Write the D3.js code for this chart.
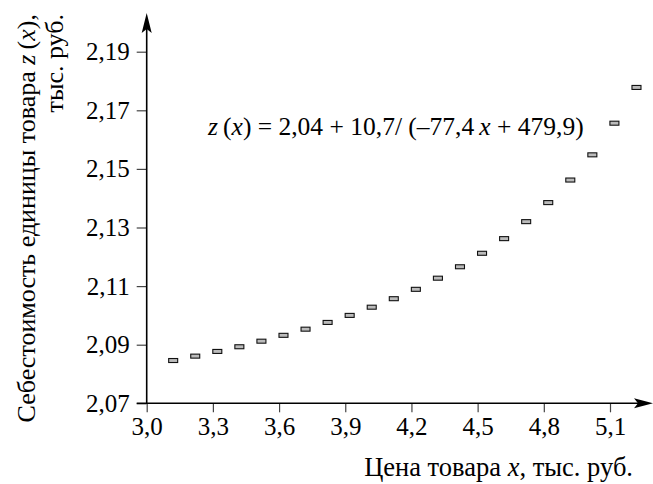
<!DOCTYPE html>
<html>
<head>
<meta charset="utf-8">
<script src="https://cdn.jsdelivr.net/npm/d3@7"></script>
<style>
  body { margin: 0; background: #fff; }
</style>
</head>
<body>
<svg id="chart" width="653" height="484"></svg>
<script>
// data
const priceX = [3.12, 3.22, 3.32, 3.42, 3.52, 3.62, 3.72, 3.82, 3.92, 4.02, 4.12,
                4.22, 4.32, 4.42, 4.52, 4.62, 4.72, 4.82, 4.92, 5.02, 5.12, 5.22];
const costZ = [2.0846, 2.0861, 2.0877, 2.0893, 2.0912, 2.0932, 2.0953, 2.0976, 2.1000, 2.1028, 2.1057,
               2.1089, 2.1127, 2.1166, 2.1212, 2.1262, 2.1320, 2.1385, 2.1462, 2.1548, 2.1656, 2.1778];
const xTicks = [3.0, 3.3, 3.6, 3.9, 4.2, 4.5, 4.8, 5.1];
const yTicks = [2.07, 2.09, 2.11, 2.13, 2.15, 2.17, 2.19];

const svg = d3.select("#chart");
const FONT = "'Liberation Serif'";

const x = d3.scaleLinear().domain([3.0, 5.1]).range([146.7, 610]);
const y = d3.scaleLinear().domain([2.07, 2.19]).range([403.3, 51.7]);
const xEnd = 653, yEnd = 13;

const fmt = (d, n) => d.toFixed(n).replace(".", ",");

// x axis
const gx = svg.append("g").attr("transform", `translate(0,${y(2.07)})`);
gx.call(d3.axisBottom(x).tickValues(xTicks).tickSize(9).tickPadding(5).tickFormat(d => fmt(d, 1)));
gx.select(".domain").remove();
gx.selectAll(".tick line").attr("stroke", "#444").attr("stroke-width", 1.2);
gx.selectAll(".tick text").style("font-family", FONT).style("font-size", "25px").attr("fill", "#000");

// y axis
const gy = svg.append("g").attr("transform", `translate(${x(3.0)},0)`);
gy.call(d3.axisLeft(y).tickValues(yTicks).tickSize(10).tickPadding(7).tickFormat(d => fmt(d, 2)));
gy.select(".domain").remove();
gy.selectAll(".tick line").attr("stroke", "#444").attr("stroke-width", 1.2);
gy.selectAll(".tick text").style("font-family", FONT).style("font-size", "25px").attr("fill", "#000");

// axis lines with arrows
svg.append("line")
    .attr("x1", x(3.0) - 10).attr("y1", y(2.07))
    .attr("x2", xEnd - 14).attr("y2", y(2.07))
    .attr("stroke", "#000").attr("stroke-width", 1.6);
svg.append("line")
    .attr("x1", x(3.0)).attr("y1", y(2.07))
    .attr("x2", x(3.0)).attr("y2", yEnd + 14)
    .attr("stroke", "#000").attr("stroke-width", 1.6);

const ax = y(2.07), ay = x(3.0);
svg.append("path")
    .attr("d", `M${xEnd},${ax} L${xEnd - 19},${ax - 5} L${xEnd - 15},${ax} L${xEnd - 19},${ax + 5} Z`)
    .attr("fill", "#000");
svg.append("path")
    .attr("d", `M${ay},${yEnd} L${ay - 5},${yEnd + 20} L${ay},${yEnd + 16} L${ay + 5},${yEnd + 20} Z`)
    .attr("fill", "#000");

// points
svg.append("g").selectAll("rect")
    .data(priceX.map((d, i) => ({ px: d, z: costZ[i] })))
    .join("rect")
    .attr("x", d => x(d.px) - 4.5)
    .attr("y", d => y(d.z) - 2)
    .attr("width", 9)
    .attr("height", 4)
    .attr("fill", "#bbb")
    .attr("stroke", "#111")
    .attr("stroke-width", 1.1);

// equation
const eq = svg.append("text")
    .attr("x", 208).attr("y", 135)
    .style("font-family", FONT).style("font-size", "25.5px");
eq.append("tspan").attr("font-style", "italic").text("z");
eq.append("tspan").text("\u2009(");
eq.append("tspan").attr("font-style", "italic").text("x");
eq.append("tspan").text(") = 2,04 + 10,7/ (\u201377,4\u2009");
eq.append("tspan").attr("font-style", "italic").text("x");
eq.append("tspan").text(" + 479,9)");

// x label
const xl = svg.append("text")
    .attr("x", 633).attr("y", 476)
    .attr("text-anchor", "end")
    .style("font-family", FONT).style("font-size", "26.5px");
xl.append("tspan").text("Цена товара ");
xl.append("tspan").attr("font-style", "italic").text("x");
xl.append("tspan").text(", тыс. руб.");

// y label (two lines)
const yl1 = svg.append("text")
    .attr("transform", "translate(35,14) rotate(-90)")
    .attr("text-anchor", "end")
    .style("font-family", FONT).style("font-size", "26px");
yl1.append("tspan").text("Себестоимость единицы товара ");
yl1.append("tspan").attr("font-style", "italic").text("z");
yl1.append("tspan").text("\u2009(");
yl1.append("tspan").attr("font-style", "italic").text("x");
yl1.append("tspan").text("),");

svg.append("text")
    .attr("transform", "translate(63,14) rotate(-90)")
    .attr("text-anchor", "end")
    .style("font-family", FONT).style("font-size", "26px")
    .text("тыс. руб.");
</script>
</body>
</html>
